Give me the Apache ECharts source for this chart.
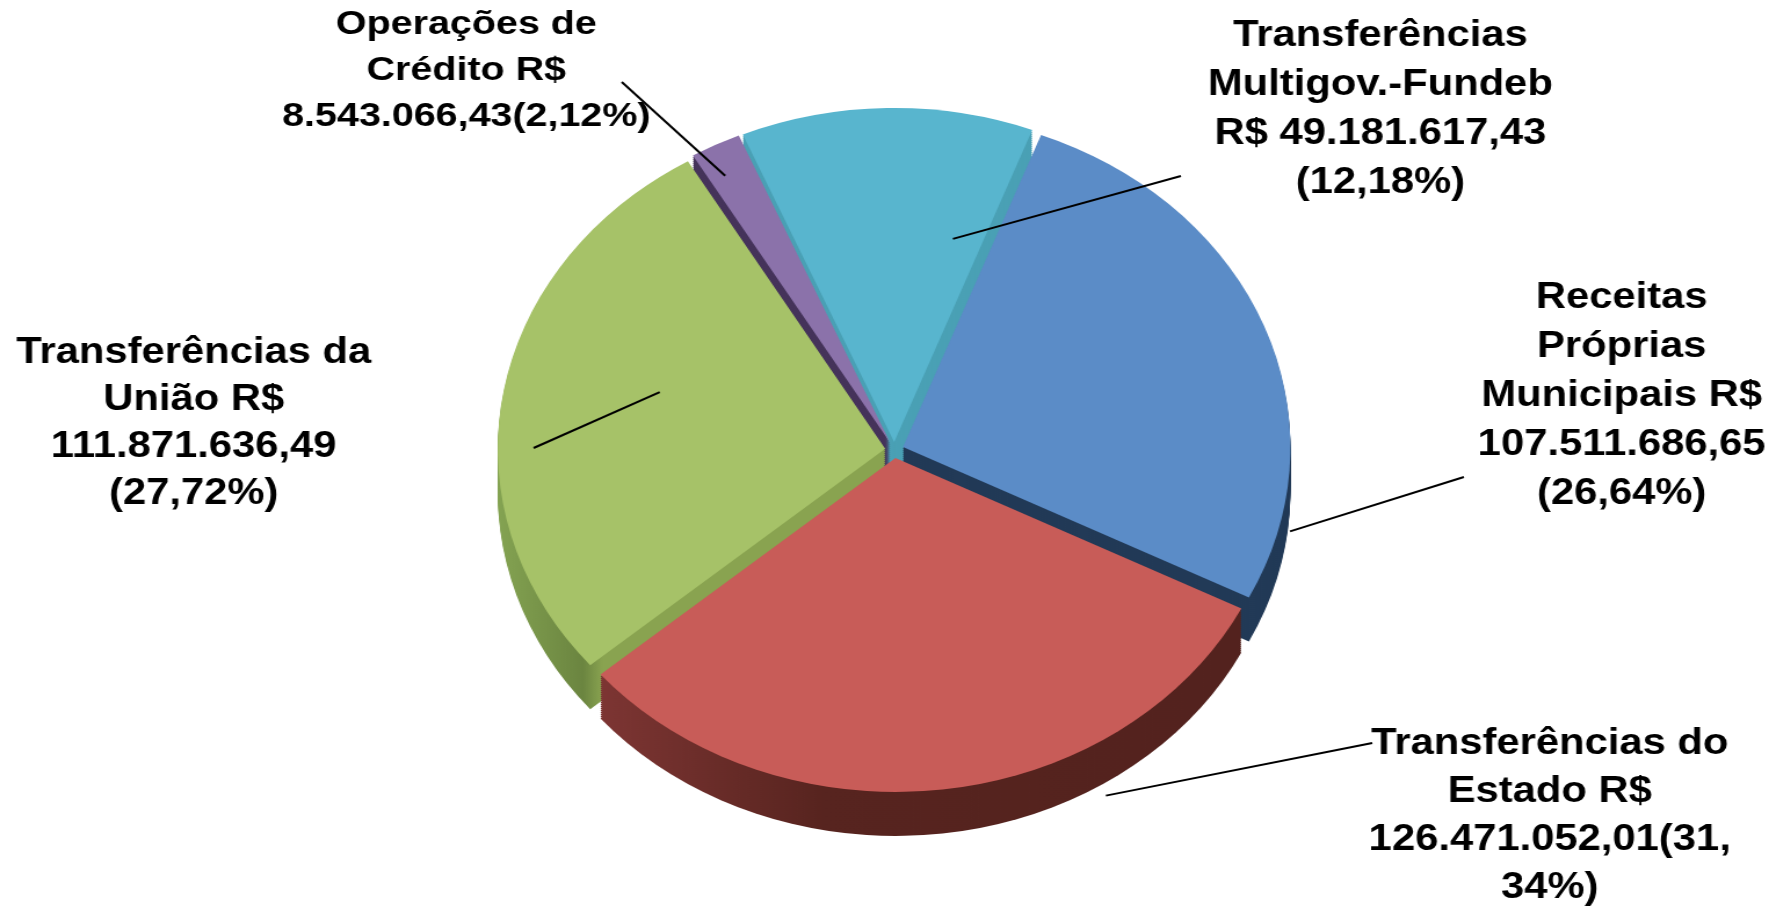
<!DOCTYPE html>
<html><head><meta charset="utf-8">
<script src="https://cdn.jsdelivr.net/npm/echarts@6/dist/echarts.min.js"></script>
<style>
html,body{margin:0;padding:0;background:#fff;overflow:hidden;width:1780px;height:912px}
#chart{width:1535px;height:912px;transform:scaleX(1.16);transform-origin:0 0}
</style>
</head><body><div id="chart"></div>
<script>
// ---- data ----
const categories = [
  'Transferências Multigov.-Fundeb',
  'Receitas Próprias Municipais',
  'Transferências do Estado',
  'Transferências da União',
  'Operações de Crédito'
];
const values = [49181617.43, 107511686.65, 126471052.01, 111871636.49, 8543066.43];
const labelTexts = [
  'Transferências\nMultigov.-Fundeb\nR$ 49.181.617,43\n(12,18%)',
  'Receitas\nPróprias\nMunicipais R$\n107.511.686,65\n(26,64%)',
  'Transferências do\nEstado R$\n126.471.052,01(31,\n34%)',
  'Transferências da\nUnião R$\n111.871.636,49\n(27,72%)',
  'Operações de\nCrédito R$\n8.543.066,43(2,12%)'
];

// ---- style / layout ----
const topColors = ['#58b5ce', '#5b8cc7', '#c85c58', '#a6c268', '#8b72aa'];
function hgrad(stops) {
  return {type: 'linear', x: 0, y: 0, x2: 1, y2: 0,
    colorStops: stops.map(s => ({offset: s[0], color: s[1]}))};
}
const sideColors = [
  '#4aa0b5',
  '#223a57',
  hgrad([[0, '#7d3533'], [0.35, '#57241f'], [1, '#53221e']]),
  hgrad([[0, '#84a352'], [0.22, '#6b8540'], [0.27, '#89a350'], [1, '#89a350']]),
  '#45335a'
];
const labelPos = [[1190, 110], [1398, 396], [1336, 816], [167, 424], [402, 71]];
const labelLH = [49, 49, 48, 47, 46];
const labelFS = [36, 36, 36, 36, 34];
// leader line: start at (slice mid-angle + angle offset, fraction of radius); end relative to label centre
const leaderStart = [[-14.5, 0.65], [-34.6, 1.05], [21, 1.17], [-6.5, 0.63], [1.2, 0.93]];
const leaderEnd = [[-172, 66], [-136, 81], [-153, -73], [293, 24], [134, 11]];
const cx = 771, cy = 450, R = 334, depth = 44, step = 2, startAngle = 113, explode = 8;

const total = values.reduce((a, b) => a + b, 0);
const midAngles = [];
{ let acc = startAngle; values.forEach(v => { const span = v / total * 360; midAngles.push(acc - span / 2); acc -= span; }); }

const series = [];
for (let k = Math.round(depth / step); k >= 1; k--) {
  series.push({
    type: 'pie', z: 1, silent: true, animation: false,
    center: [cx, cy + k * step], radius: R, startAngle: startAngle,
    selectedMode: 'multiple', selectedOffset: explode,
    label: {show: false}, labelLine: {show: false},
    emphasis: {disabled: true},
    data: categories.map((c, i) => ({name: c, value: values[i], selected: true,
      itemStyle: {color: sideColors[i]}}))
  });
}
// top faces
series.push({
  type: 'pie', z: 3, silent: true, animation: false,
  center: [cx, cy], radius: R, startAngle: startAngle,
  selectedMode: 'multiple', selectedOffset: explode,
  emphasis: {disabled: true},
  label: {show: false}, labelLine: {show: false},
  data: categories.map((c, i) => ({name: c, value: values[i], selected: true,
    itemStyle: {color: topColors[i]}}))
});
// labels + leader lines (same geometry, transparent)
series.push({
  type: 'pie', z: 5, silent: true, animation: false,
  center: [cx, cy], radius: R, startAngle: startAngle,
  selectedMode: false, avoidLabelOverlap: false,
  emphasis: {disabled: true},
  itemStyle: {color: 'rgba(0,0,0,0)'},
  label: {
    show: true, position: 'outside', color: '#000',
    fontFamily: '"Liberation Sans", Arial, sans-serif', fontWeight: 'bold', fontSize: 36,
    align: 'center', distanceToLabelLine: 0,
    formatter: p => labelTexts[p.dataIndex]
  },
  labelLine: {show: true, length: 10, length2: 10, smooth: false,
    lineStyle: {color: '#000', width: 2}},
  labelLayout: function (p) {
    const i = p.dataIndex;
    const tx = labelPos[i][0], ty = labelPos[i][1];
    const a = (midAngles[i] + leaderStart[i][0]) * Math.PI / 180;
    const rr = R * leaderStart[i][1];
    const s = [cx + rr * Math.cos(a), cy - rr * Math.sin(a)];
    const e = [tx + leaderEnd[i][0], ty + leaderEnd[i][1]];
    return {x: tx, y: ty, align: 'center', verticalAlign: 'middle', labelLinePoints: [s, e]};
  },
  data: categories.map((c, i) => ({name: c, value: values[i],
    label: {lineHeight: labelLH[i], fontSize: labelFS[i]}}))
});

const chart = echarts.init(document.getElementById('chart'), null, {renderer: 'canvas'});
chart.setOption({backgroundColor: '#fff', animation: false, series: series});
</script>
</body></html>
